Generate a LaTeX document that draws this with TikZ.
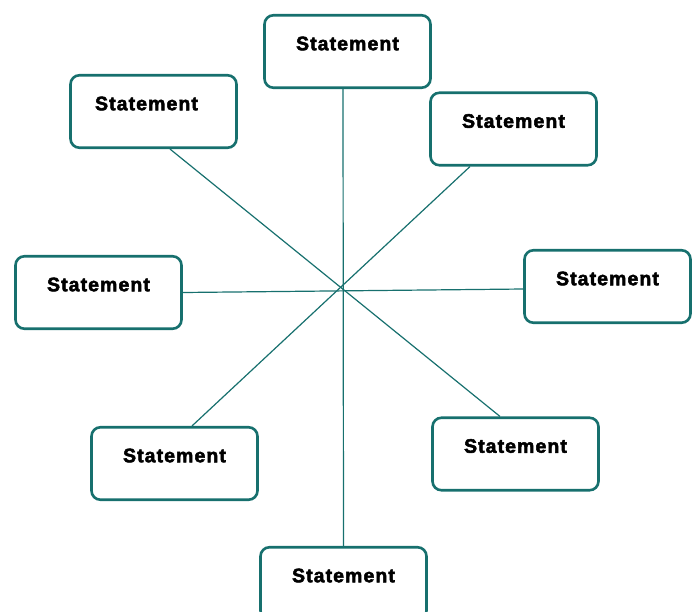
\documentclass[tikz,border=0pt]{standalone}
\usepackage{fontspec}
\setmainfont{Liberation Sans}
\newfontfamily\heavyfont{Liberation Sans Bold}[FakeBold=2.6,LetterSpace=5.5]
\definecolor{teal1}{HTML}{17706E}
\tikzset{
  stbox/.style={draw=teal1, line width=2.6pt, rounded corners=9pt, fill=white,
    minimum width=166pt, minimum height=72.5pt, inner sep=0pt,
    text height=35pt, text depth=37.5pt, font=\heavyfont\fontsize{19.5}{22}\selectfont},
  link/.style={draw=teal1, line width=1.2pt}
}
\begin{document}
\begin{tikzpicture}[x=1pt,y=-1pt]
\useasboundingbox (0,0) rectangle (699,611);
\node[stbox] (t)  at (347.5,51.5)  {Statement};
\node[stbox] (ul) at (153.5,111.5) {\hspace*{-14pt}Statement};
\node[stbox] (ur) at (513.5,129)   {Statement};
\node[stbox] (l)  at (98.5,292.5)  {Statement};
\node[stbox] (r)  at (607.5,286.5) {Statement};
\node[stbox] (ll) at (174.5,463.5) {Statement};
\node[stbox] (lr) at (515.5,454)   {Statement};
\node[stbox] (b)  at (343.5,583.5) {Statement};
\draw[link] ([xshift=-4.5pt]t.south) -- (b.north);
\draw[link] ([xshift=16.5pt]ul.south) -- ([xshift=-15.5pt]lr.north);
\draw[link] ([xshift=-43.5pt]ur.south) -- ([xshift=17.5pt]ll.north);
\draw[link] (l.east) -- ([yshift=-2.5pt]r.west);
\end{tikzpicture}
\end{document}
